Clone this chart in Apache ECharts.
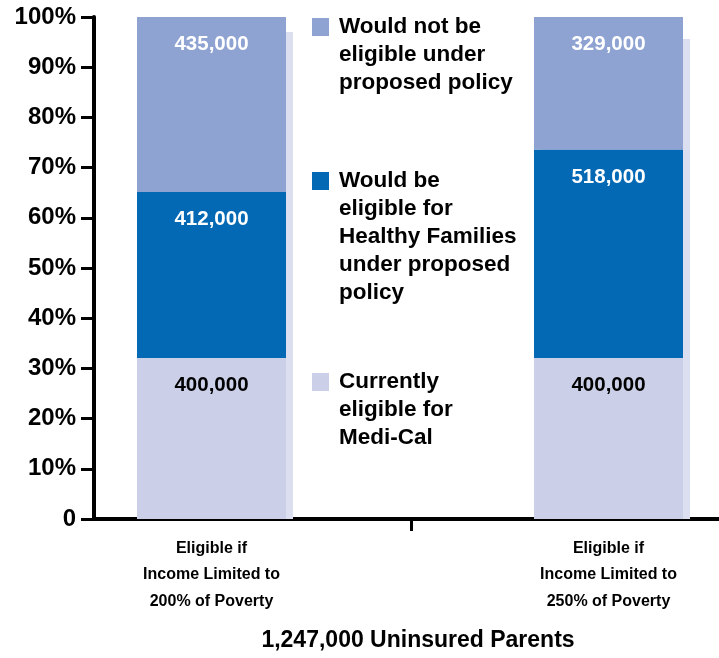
<!DOCTYPE html>
<html>
<head>
<meta charset="utf-8">
<script src="https://cdn.jsdelivr.net/npm/echarts@6/dist/echarts.min.js"></script>
<style>
html, body { margin: 0; padding: 0; background: #fff; }
#chart { width: 719px; height: 658px; }
</style>
</head>
<body>
<div id="chart"></div>
<script>
// data
var categories = ['Eligible if\nIncome Limited to\n200% of Poverty', 'Eligible if\nIncome Limited to\n250% of Poverty'];
var mediCal = [400000, 400000];
var healthyFamilies = [412000, 518000];
var notEligible = [435000, 329000];
var shadowPct = [97, 95.6];   // top of the grey "depth" strip behind each bar
var seriesNames = [
    'Currently\neligible for\nMedi-Cal',
    'Would be\neligible for\nHealthy Families\nunder proposed\npolicy',
    'Would not be\neligible under\nproposed policy'
];
var seriesColors = ['#cbd0e8', '#0469b4', '#8fa3d2'];
var labelColors = ['#000', '#fff', '#fff'];
var yTicks = [0, 10, 20, 30, 40, 50, 60, 70, 80, 90, 100];
var totalLabel = '1,247,000 Uninsured Parents';

var FONT = "'Liberation Sans', Arial, sans-serif";
var LH = 28;      // legend line height
var ICON_H = 18;

var chart = echarts.init(document.getElementById('chart'));

var totals = mediCal.map(function (v, i) { return v + healthyFamilies[i] + notEligible[i]; });
function toPct(arr) {
    return arr.map(function (v, i) { return { value: v / totals[i] * 100, count: v }; });
}

var BAR_W = 149;
var GAP = '-95.3%';

var series = [mediCal, healthyFamilies, notEligible].map(function (arr, k) {
    return {
        name: seriesNames[k],
        type: 'bar',
        stack: 'total',
        xAxisIndex: 0,
        yAxisIndex: 0,
        barWidth: BAR_W,
        barGap: GAP,
        z: 3,
        itemStyle: { color: seriesColors[k] },
        label: {
            show: true,
            position: 'insideTop',
            distance: 17,
            color: labelColors[k],
            fontFamily: FONT,
            fontWeight: 'bold',
            fontSize: 20.5,
            formatter: function (p) { return p.data.count.toLocaleString('en-US'); }
        },
        emphasis: { disabled: true },
        data: toPct(arr)
    };
});
series.push({
    name: 'depth',
    type: 'bar',
    xAxisIndex: 0,
    yAxisIndex: 0,
    barWidth: BAR_W,
    barGap: GAP,
    z: 1,
    silent: true,
    itemStyle: { color: '#dcdff0' },
    data: shadowPct
});

// one legend per entry so each can sit at its own height;
// leading blank lines keep the first text line level with the swatch
var iconTops = [373, 172, 18];
var legends = seriesNames.map(function (name, k) {
    var n = name.split('\n').length;
    return {
        data: [name],
        orient: 'vertical',
        left: 312,
        top: iconTops[k] + ICON_H / 2 - (2 * n - 1) * LH / 2,
        padding: 0,
        icon: 'rect',
        itemWidth: 17,
        itemHeight: ICON_H,
        selectedMode: false,
        formatter: function (nm) {
            return new Array(n).join('\n') + nm;
        },
        textStyle: {
            color: '#000',
            fontFamily: FONT,
            fontWeight: 'bold',
            fontSize: 22.5,
            lineHeight: LH,
            padding: [0, 0, 0, 5]
        }
    };
});

var option = {
    animation: false,
    backgroundColor: '#fff',
    title: {
        text: totalLabel,
        left: 418,
        top: 641,
        textAlign: 'center',
        textVerticalAlign: 'middle',
        padding: 0,
        textStyle: { color: '#000', fontFamily: FONT, fontWeight: 'bold', fontSize: 23 }
    },
    legend: legends,
    grid: [
        { left: 16.5, width: 794, top: 17, bottom: 139, outerBoundsMode: 'none', containLabel: false },   // bars
        { left: 94, right: -10, top: 17, bottom: 139, outerBoundsMode: 'none', containLabel: false }      // visible axes
    ],
    xAxis: [
        {
            type: 'category',
            gridIndex: 0,
            data: categories,
            axisLine: { show: false },
            axisTick: { show: false },
            axisLabel: {
                margin: 16,
                color: '#000',
                fontFamily: FONT,
                fontWeight: 'bold',
                fontSize: 16,
                lineHeight: 26.5,
                padding: [0, 7, 0, 0]
            }
        },
        {
            type: 'category',
            gridIndex: 1,
            boundaryGap: false,
            data: ['', '', ''],
            axisLine: { lineStyle: { color: '#000', width: 4 } },
            axisTick: {
                length: 12,
                interval: function (i) { return i === 1; },
                lineStyle: { color: '#000', width: 3 }
            },
            axisLabel: { show: false }
        }
    ],
    yAxis: [
        { type: 'value', gridIndex: 0, min: 0, max: 100, show: false },
        {
            type: 'value',
            gridIndex: 1,
            min: yTicks[0],
            max: yTicks[yTicks.length - 1],
            interval: 10,
            splitLine: { show: false },
            axisLine: { show: true, lineStyle: { color: '#000', width: 4 } },
            axisTick: { show: true, length: 13, lineStyle: { color: '#000', width: 3 } },
            axisLabel: {
                margin: 18,
                color: '#000',
                fontFamily: FONT,
                fontWeight: 'bold',
                fontSize: 24,
                formatter: function (v) { return v === 0 ? '0' : v + '%'; }
            }
        }
    ],
    series: series
};

chart.setOption(option);
</script>
</body>
</html>
